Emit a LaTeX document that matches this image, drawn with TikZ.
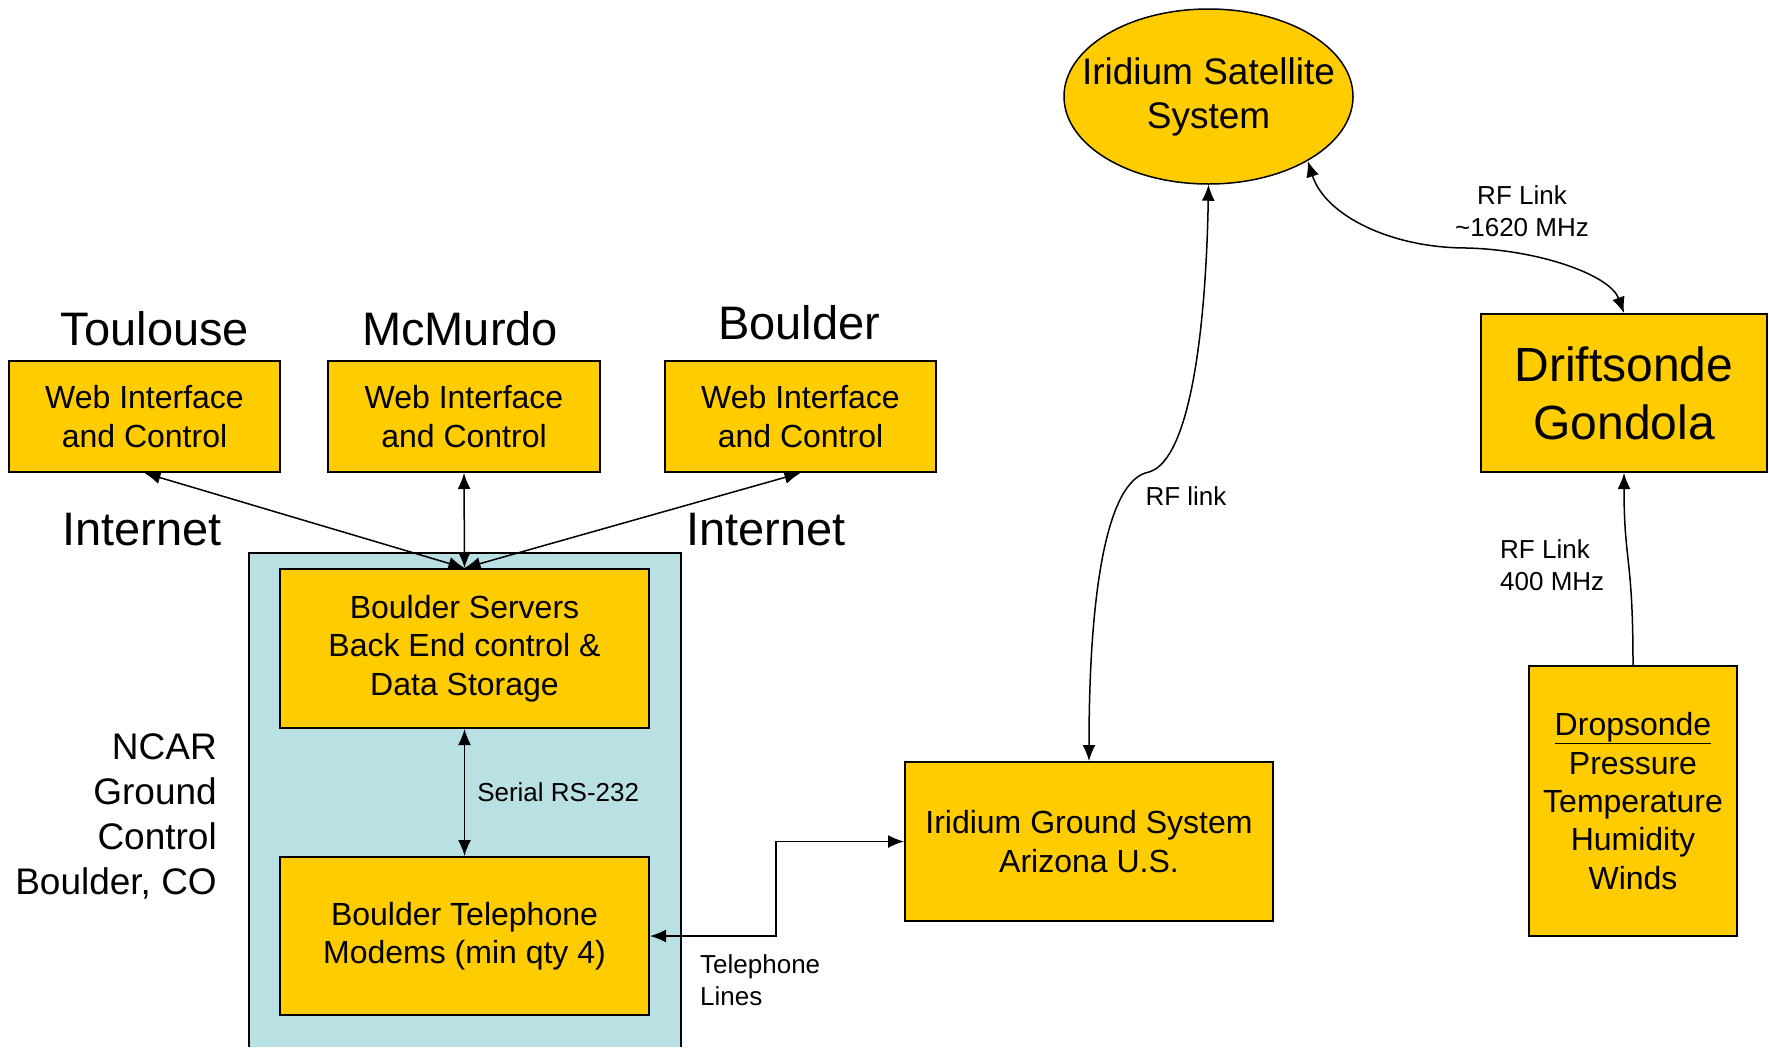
\documentclass[tikz,border=0pt]{standalone}
\usepackage{fontspec}
\setmainfont{Liberation Sans}
\usetikzlibrary{arrows.meta,shapes.geometric}
\definecolor{boxyellow}{RGB}{255,204,0}
\definecolor{ncarblue}{RGB}{185,224,227}

\begin{document}
\begin{tikzpicture}[x=1pt, y=-1pt, >={Latex[length=16pt,width=13pt]},
        main/.style = {draw, line width=2pt, fill=boxyellow, align=center, inner sep=0pt,
                       font=\fontsize{32}{38.4}\selectfont},
        site/.style = {font=\fontsize{47}{56}\selectfont},
        lbl/.style = {font=\fontsize{26}{31.5}\selectfont, inner sep=0pt},
        arr/.style = {line width=1.5pt, <->}]
            \useasboundingbox (0,0) rectangle (1769,1047);

            % NCAR ground control area
            \fill[ncarblue] (249,553) rectangle (681,1047);
            \draw[line width=1.5pt] (249,1047) |- (681,553) -- (681,1047);
            \node[anchor=east, align=right, inner sep=0pt, font=\fontsize{37}{45}\selectfont]
                (ncar) at (217,816) {NCAR\\Ground\\Control\\Boulder, CO};

            \node[site] (tlsname) at (155,329) {Toulouse};
            \node[site] (mcmname) at (460,329) {McMurdo};
            \node[site] (bldname) at (799,323) {Boulder};
            \node[site] (net1) at (142,530) {Internet};
            \node[site] (net2) at (766,530) {Internet};

            \node[main, minimum width=271pt, minimum height=111pt] (tls) at (144.5,416.5) {Web Interface\\and Control};
            \node[main, minimum width=272pt, minimum height=111pt] (mcm) at (464,416.5) {Web Interface\\and Control};
            \node[main, minimum width=271pt, minimum height=111pt] (bld) at (800.5,416.5) {Web Interface\\and Control};
            \node[main, minimum width=369pt, minimum height=159pt] (srv) at (464.5,648.5) {Boulder Servers\\Back End control \&\\Data Storage};
            \node[main, minimum width=369pt, minimum height=158pt] (mdm) at (464.5,936) {Boulder Telephone\\Modems (min qty 4)};
            \node[main, minimum width=368pt, minimum height=159pt] (gnd) at (1089,841.5) {Iridium Ground System\\Arizona U.S.};
            \node[main, ellipse, line width=1.5pt, inner xsep=-60pt, minimum width=289pt, minimum height=175pt,
                  font=\fontsize{37}{44}\selectfont] (sat) at (1208.5,96.5) {Iridium Satellite\\System};
            \node[main, minimum width=286pt, minimum height=158pt, font=\fontsize{48}{58}\selectfont] (gon) at (1624,393) {Driftsonde\\Gondola};
            \node[main, minimum width=208pt, minimum height=270pt] (drp) at (1633,801)
                {\underline{Dropsonde}\\Pressure\\Temperature\\Humidity\\Winds};

            \path[arr] (srv.north) edge (tls.south);
            \path[arr] (srv.north) edge (mcm.south);
            \path[arr] (srv.north) edge (bld.south);
            \path[arr] (srv.south) edge node[lbl, right, xshift=12pt] {Serial RS-232} (mdm.north);

            \coordinate (telbend) at (776,900);
            \draw[arr] (mdm.east) -- (mdm.east -| telbend) |- (gnd.west);
            \node[lbl, anchor=west, align=left] (tellbl) at (700,980) {Telephone\\Lines};

            \draw[arr] (sat.south) .. controls (1206,330) and (1190,460) .. (1149,472)
                .. controls (1105,480) and (1089,600) .. (gnd.north);
            \node[lbl] (rflbl) at (1186,496) {RF link};

            \draw[arr] (sat.-33) .. controls (1325,215) and (1390,248) .. (1467,248)
                .. controls (1540,250) and (1610,275) .. (gon.north);
            \node[lbl, align=center] (rf1620) at (1522,211) {RF Link\\\textasciitilde1620 MHz};

            \draw[line width=1.5pt, ->] (drp.north) .. controls +(0,-110) and +(0,90) .. (gon.south);
            \node[lbl, anchor=west, align=left] (rf400) at (1500,565) {RF Link\\400 MHz};
        \end{tikzpicture}
\end{document}
